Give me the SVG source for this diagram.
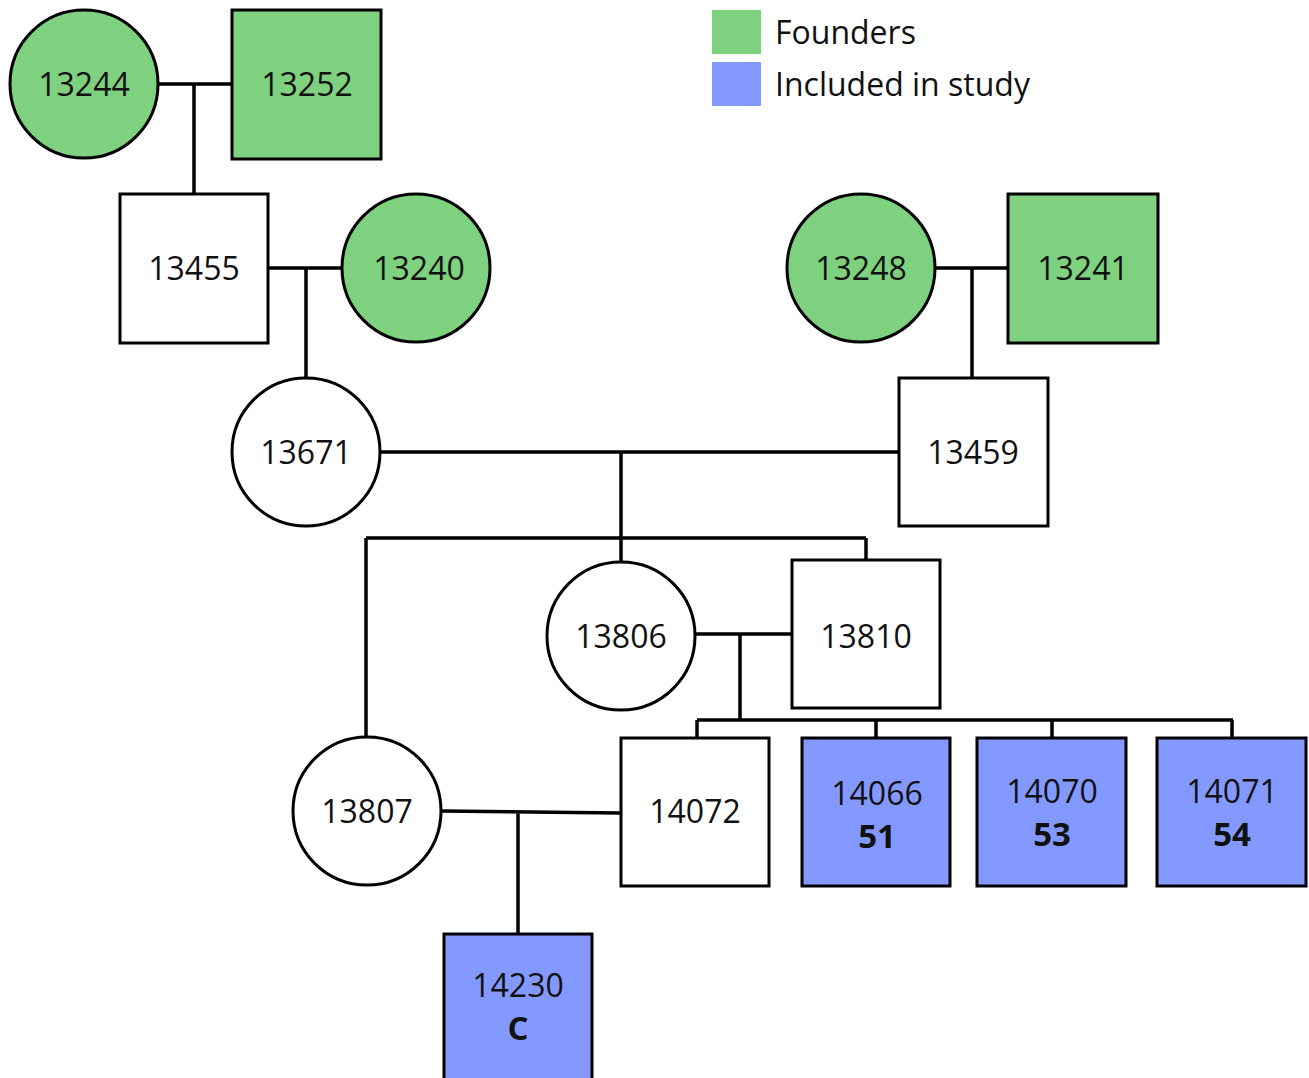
<svg xmlns="http://www.w3.org/2000/svg" width="1309" height="1078" viewBox="0 0 1309 1078">
<style>
.n{stroke:#000;stroke-width:3}
.f{fill:#7ed17e}
.s{fill:#8499ff}
.w{fill:#fff}
.t{font-family:"Open Sans","Liberation Sans",sans-serif;font-size:32px;fill:#111;text-anchor:middle}
.b{font-weight:bold;font-size:33px}
.lg{font-family:"Open Sans","Liberation Sans",sans-serif;font-size:32px;fill:#111}
.c{stroke:#000;stroke-width:3.5;fill:none}
</style>
<rect width="1309" height="1078" fill="#fff"/>
<g id="connectors">
<path class="c" d="M158 84H232M194 84V194"/>
<path class="c" d="M268 268H342M306 268V378"/>
<path class="c" d="M935 268H1008M972 268V378"/>
<path class="c" d="M380 452H899M621 452V538"/>
<path class="c" d="M366 538H866M366 538V737M621 538V562M866 538V560"/>
<path class="c" d="M695 634H792M740 634V720"/>
<path class="c" d="M697 720H1233M697 720V738M876 720V738M1052 720V738M1232 720V738"/>
<path class="c" d="M442 811L621 813M518 812V934"/>
</g>
<g id="legend">
<rect x="712" y="10" width="49" height="44" class="f"/>
<rect x="712" y="62" width="49" height="44" class="s"/>
<text class="lg" x="775" y="44">Founders</text>
<text class="lg" x="775" y="96">Included in study</text>
</g>
<g id="n13244"><circle cx="84" cy="84" r="74" class="n f"/><text class="t" x="84" y="96">13244</text></g>
<g id="n13252"><rect x="232" y="10" width="149" height="149" class="n f"/><text class="t" x="307" y="96">13252</text></g>
<g id="n13455"><rect x="120" y="194" width="148" height="149" class="n w"/><text class="t" x="194" y="280">13455</text></g>
<g id="n13240"><circle cx="416" cy="268" r="74" class="n f"/><text class="t" x="419" y="280">13240</text></g>
<g id="n13248"><circle cx="861" cy="268" r="74" class="n f"/><text class="t" x="861" y="280">13248</text></g>
<g id="n13241"><rect x="1008" y="194" width="150" height="149" class="n f"/><text class="t" x="1083" y="280">13241</text></g>
<g id="n13671"><circle cx="306" cy="452" r="74" class="n w"/><text class="t" x="306" y="464">13671</text></g>
<g id="n13459"><rect x="899" y="378" width="149" height="148" class="n w"/><text class="t" x="973" y="464">13459</text></g>
<g id="n13806"><circle cx="621" cy="636" r="74" class="n w"/><text class="t" x="621" y="648">13806</text></g>
<g id="n13810"><rect x="792" y="560" width="148" height="148" class="n w"/><text class="t" x="866" y="648">13810</text></g>
<g id="n13807"><circle cx="367" cy="811" r="74" class="n w"/><text class="t" x="367" y="823">13807</text></g>
<g id="n14072"><rect x="621" y="738" width="148" height="148" class="n w"/><text class="t" x="695" y="823">14072</text></g>
<g id="n14066"><rect x="802" y="738" width="148" height="148" class="n s"/><text class="t" x="877" y="805">14066</text><text class="t b" x="877" y="848">51</text></g>
<g id="n14070"><rect x="977" y="738" width="149" height="148" class="n s"/><text class="t" x="1052" y="803">14070</text><text class="t b" x="1052" y="846">53</text></g>
<g id="n14071"><rect x="1157" y="738" width="149" height="148" class="n s"/><text class="t" x="1232" y="803">14071</text><text class="t b" x="1232" y="846">54</text></g>
<g id="n14230"><rect x="444" y="934" width="148" height="150" class="n s"/><text class="t" x="518" y="997">14230</text><text class="t b" x="518" y="1040">C</text></g>
</svg>
